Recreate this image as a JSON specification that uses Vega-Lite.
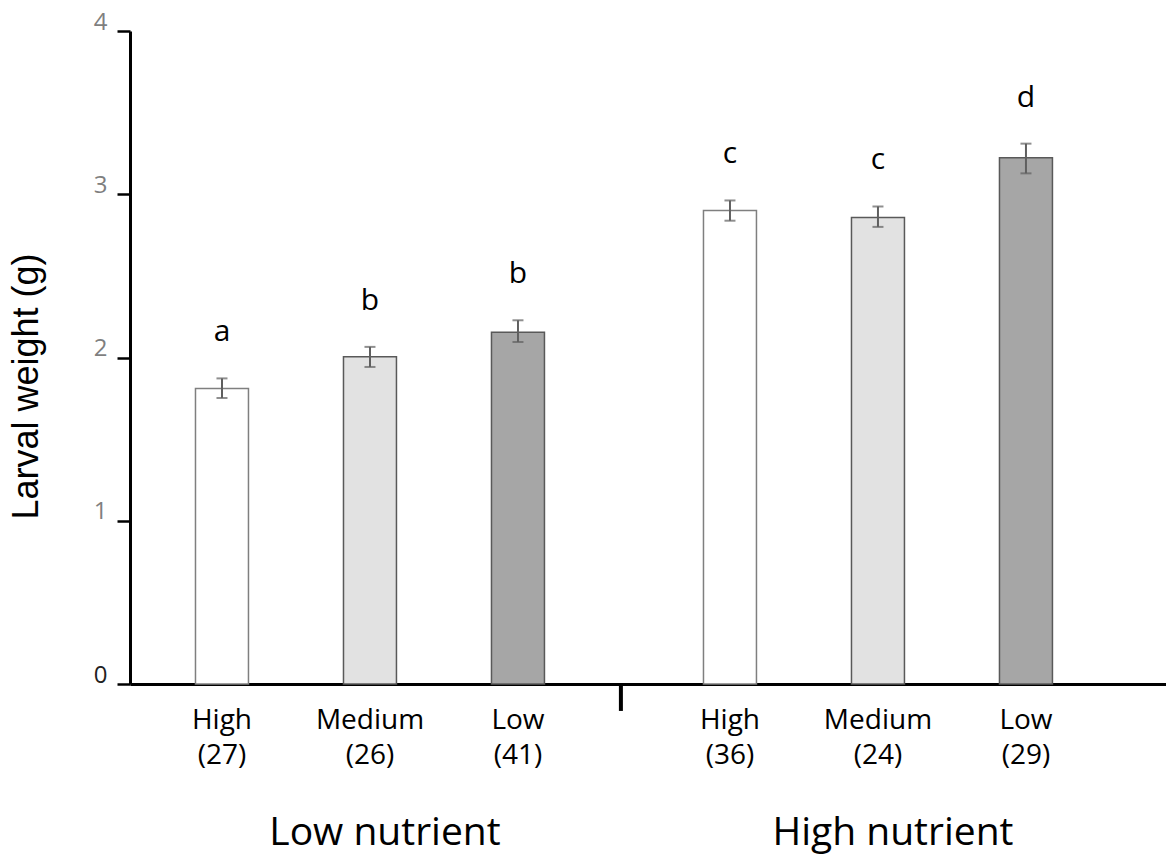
{
  "$schema": "https://vega.github.io/schema/vega-lite/v6.json",
  "autosize": {"type": "none"},
  "padding": {"left": 130, "top": 31, "right": 0, "bottom": 172},
  "width": 1036,
  "height": 653,
  "background": "white",
  "config": {
    "view": {"stroke": null},
    "axisX": {
      "domainColor": "black",
      "domainWidth": 3,
      "ticks": false,
      "labelAngle": 0,
      "labelFont": "Open Sans",
      "labelFontSize": 39,
      "labelColor": "black",
      "labelBaseline": "alphabetic",
      "labelPadding": 160,
      "labelLimit": 0
    }
  },
  "data": {
    "values": [
      {"group": "Low nutrient", "trt": "High", "label": "High\n(27)", "mean": 1.81, "lower": 1.752, "upper": 1.872, "letter": "a"},
      {"group": "Low nutrient", "trt": "Medium", "label": "Medium\n(26)", "mean": 2.005, "lower": 1.942, "upper": 2.065, "letter": "b"},
      {"group": "Low nutrient", "trt": "Low", "label": "Low\n (41)", "mean": 2.155, "lower": 2.095, "upper": 2.228, "letter": "b"},
      {"group": "High nutrient", "trt": "High", "label": "High\n(36)", "mean": 2.9, "lower": 2.838, "upper": 2.962, "letter": "c"},
      {"group": "High nutrient", "trt": "Medium", "label": "Medium\n(24)", "mean": 2.858, "lower": 2.8, "upper": 2.925, "letter": "c"},
      {"group": "High nutrient", "trt": "Low", "label": "Low\n (29)", "mean": 3.224, "lower": 3.128, "upper": 3.31, "letter": "d"}
    ]
  },
  "encoding": {
    "x": {
      "field": "group",
      "type": "nominal",
      "sort": ["Low nutrient", "High nutrient"],
      "scale": {"domain": ["Low nutrient", "High nutrient"], "paddingInner": 0.126, "paddingOuter": 0.0827, "align": 0.214},
      "axis": {"title": null, "labelOffset": 15}
    },
    "xOffset": {
      "field": "trt",
      "type": "nominal",
      "sort": ["High", "Medium", "Low"],
      "scale": {"domain": ["High", "Medium", "Low"], "paddingInner": 0.642, "paddingOuter": 0.321}
    }
  },
  "layer": [
    {
      "mark": {"type": "bar", "strokeWidth": 1.5},
      "encoding": {
        "y": {
          "field": "mean",
          "type": "quantitative",
          "scale": {"domain": [0, 4], "nice": false},
          "axis": {
            "values": [0, 1, 2, 3, 4],
            "format": "d",
            "grid": false,
            "domainColor": "black",
            "domainWidth": 3,
            "tickColor": "black",
            "tickWidth": 2.5,
            "tickSize": 13,
            "labelFont": "Open Sans",
            "labelFontSize": 24,
            "labelBaseline": "alphabetic",
            "labelOffset": -2,
            "labelPadding": 10,
            "labelColor": {"condition": {"test": "datum.value === 0", "value": "#222222"}, "value": "#7f7f7f"},
            "title": "Larval weight (g)",
            "titleFont": "Liberation Sans",
            "titleFontSize": 36,
            "titleFontWeight": "normal",
            "titleColor": "black",
            "titleAngle": -90,
            "titleBaseline": "alphabetic",
            "titleAlign": "center",
            "titleX": -93,
            "titleY": 355
          }
        },
        "fill": {
          "field": "trt",
          "type": "nominal",
          "scale": {"domain": ["High", "Medium", "Low"], "range": ["#ffffff", "#e2e2e2", "#a6a6a6"]},
          "legend": null
        },
        "stroke": {
          "field": "trt",
          "type": "nominal",
          "scale": {"domain": ["High", "Medium", "Low"], "range": ["#7f7f7f", "#595959", "#595959"]},
          "legend": null
        }
      }
    },
    {
      "mark": {"type": "rule", "color": "#5f5f5f", "strokeWidth": 2},
      "encoding": {
        "y": {"field": "lower", "type": "quantitative"},
        "y2": {"field": "upper"}
      }
    },
    {
      "mark": {"type": "tick", "color": "#5f5f5f", "thickness": 2, "size": 11},
      "encoding": {"y": {"field": "lower", "type": "quantitative"}}
    },
    {
      "mark": {"type": "tick", "color": "#5f5f5f", "thickness": 2, "size": 11},
      "encoding": {"y": {"field": "upper", "type": "quantitative"}}
    },
    {
      "mark": {"type": "text", "font": "Open Sans", "fontSize": 30, "color": "black", "baseline": "alphabetic", "dy": -37},
      "encoding": {
        "y": {"field": "upper", "type": "quantitative"},
        "text": {"field": "letter"}
      }
    },
    {
      "mark": {"type": "text", "font": "Open Sans", "fontSize": 28, "color": "black", "baseline": "alphabetic", "dy": 45, "lineBreak": "\n", "lineHeight": 35},
      "encoding": {
        "y": {"datum": 0, "type": "quantitative"},
        "text": {"field": "label"}
      }
    },
    {
      "data": {"values": [{"group": "High nutrient"}]},
      "mark": {"type": "rule", "color": "black", "strokeWidth": 4},
      "encoding": {
        "x": {"field": "group", "type": "nominal", "sort": ["Low nutrient", "High nutrient"], "bandPosition": -0.079},
        "xOffset": null,
        "y": {"datum": 0, "type": "quantitative"},
        "y2": {"datum": -0.165}
      }
    }
  ]
}
